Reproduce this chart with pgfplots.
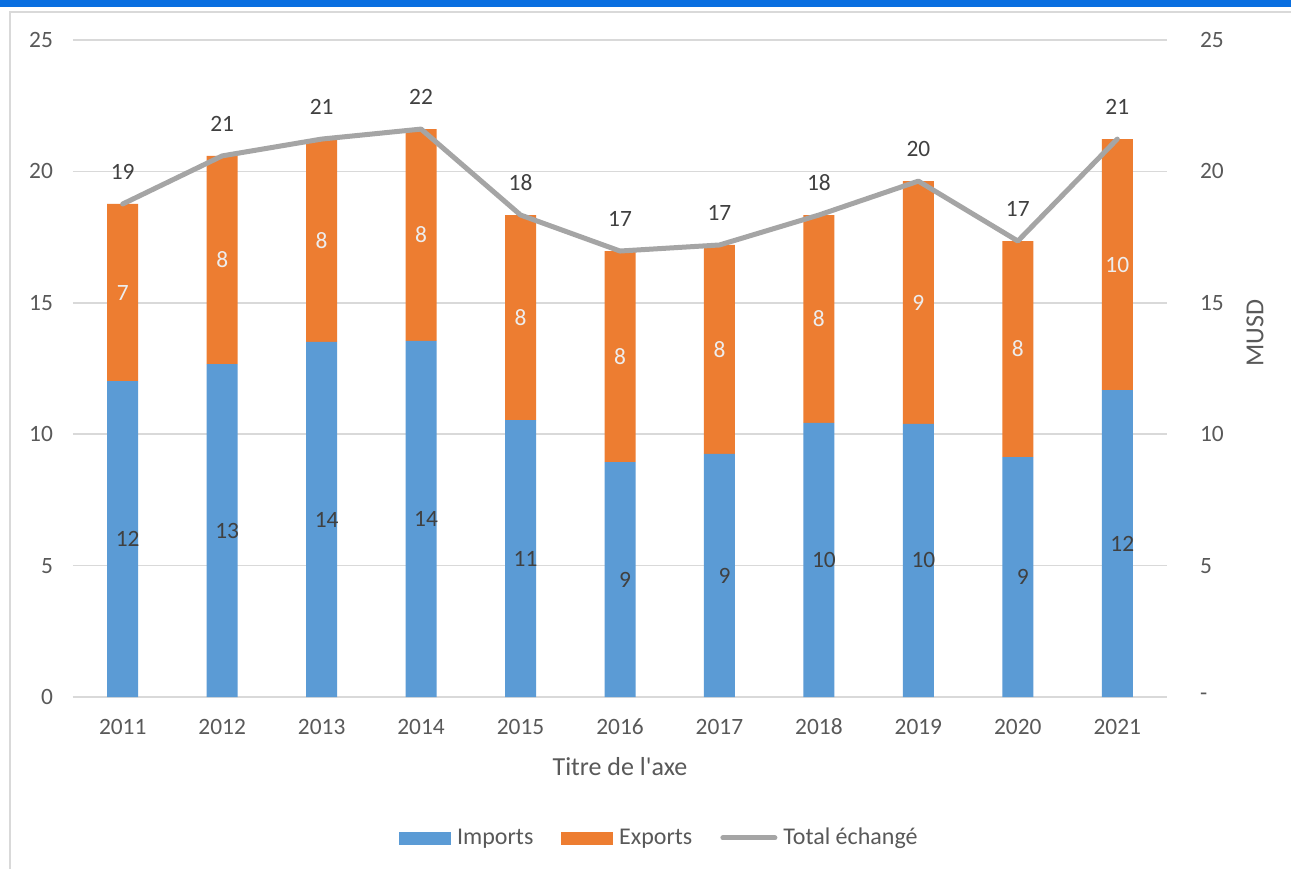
\documentclass[border=0pt]{standalone}
\usepackage{fontspec}
\setmainfont{Carlito}
\usepackage{pgfplots}
\usepackage{pgfplotstable}
\pgfplotsset{compat=1.18}
\definecolor{cImp}{HTML}{5B9BD5}
\definecolor{cExp}{HTML}{ED7D31}
\definecolor{cTot}{HTML}{A5A5A5}
\definecolor{cGrid}{HTML}{D9D9D9}
\definecolor{cTick}{HTML}{595959}
\definecolor{cLab}{HTML}{404040}
\definecolor{cBand}{HTML}{0A6FE0}
\pgfplotstableread{
x imp exp tot il el tl
0 12.02 6.74 18.76 12 7 19
1 12.67 7.92 20.59 13 8 21
2 13.51 7.72 21.23 14 8 21
3 13.55 8.06 21.61 14 8 22
4 10.54 7.80 18.34 11 8 18
5 8.94 8.03 16.97 9 8 17
6 9.25 7.95 17.20 9 8 17
7 10.43 7.91 18.34 10 8 18
8 10.39 9.24 19.63 10 9 20
9 9.13 8.22 17.35 9 8 17
10 11.68 9.55 21.23 12 10 21
}\datatable
\newcommand{\fs}{\fontsize{11.7}{13}\selectfont}
\newcommand{\fl}{\fontsize{12}{14}\selectfont}
\newcommand{\ft}{\fontsize{13}{15}\selectfont}
\begin{document}
\begin{tikzpicture}
\useasboundingbox (-36.5pt,-85.5pt) rectangle (609pt,348.5pt);
\fill[white] (-36.5pt,-85.5pt) rectangle (609pt,348.5pt);
\draw[cGrid, line width=0.6pt] (-31.5pt,-90pt) -- (-31.5pt,342.5pt) -- (615pt,342.5pt);
\fill[cBand] (-36.5pt,345pt) rectangle (609pt,348.5pt);
\begin{axis}[
  at={(0,0)}, anchor=south west,
  scale only axis, width=547pt, height=328.5pt,
  xmin=-0.5, xmax=10.5, ymin=0, ymax=25,
  ybar stacked, bar width=15.5pt,
  axis x line*=bottom, axis y line*=left,
  x axis line style={draw=cGrid, line width=0.75pt},
  y axis line style={draw=none},
  major tick length=0pt,
  xtick={0,...,10},
  xticklabels={2011,2012,2013,2014,2015,2016,2017,2018,2019,2020,2021},
  ytick={0,5,...,25},
  ymajorgrids, grid style={cGrid, line width=0.75pt},
  tick label style={font=\fs, text=cTick},
  /pgf/number format/assume math mode=true,
  xticklabel style={anchor=center, yshift=-15pt},
  yticklabel style={xshift=-6.5pt},
  xlabel={Titre de l\textquotesingle axe},
  every axis x label/.style={at={(axis description cs:0.5,0)}, anchor=center, yshift=-35pt, font=\ft, text=cTick},
  clip=false,
]
\addplot[fill=cImp, draw=none] table[x=x, y=imp] {\datatable};
\addplot[fill=cExp, draw=none] table[x=x, y=exp] {\datatable};
\end{axis}
\begin{axis}[
  at={(0,0)}, anchor=south west,
  scale only axis, width=547pt, height=328.5pt,
  xmin=-0.5, xmax=10.5, ymin=0, ymax=25,
  axis x line=none, axis y line*=right,
  y axis line style={draw=none},
  major tick length=0pt,
  ytick={0,5,...,25},
  yticklabels={-,5,10,15,20,25},
  tick label style={font=\fs, text=cTick},
  /pgf/number format/assume math mode=true,
  yticklabel style={xshift=13pt},
  ylabel={MUSD},
  every axis y label/.style={at={(axis description cs:1,0.554)}, anchor=center, rotate=90, yshift=-44pt, font=\ft, text=cTick},
  clip=false,
  legend style={at={(axis description cs:0.537,-0.2146)}, anchor=center, draw=none, fill=none,
    legend columns=-1, font=\fl, text=cTick,
    /tikz/every even column/.append style={column sep=12pt},
    /tikz/every odd column/.append style={column sep=1pt}},
  legend cell align=left,
]
\addlegendimage{area legend, legend image code/.code={\fill[cImp] (0pt,-3pt) rectangle (25.5pt,3pt);}}
\addlegendentry{Imports}
\addlegendimage{area legend, legend image code/.code={\fill[cExp] (0pt,-3pt) rectangle (25.5pt,3pt);}}
\addlegendentry{Exports}
\addplot[cTot, line width=2.5pt, line cap=round, line join=round, mark=none,
  nodes near coords, point meta=explicit symbolic,
  every node near coord/.append style={anchor=center, yshift=16pt, font=\fs, text=cLab},
  legend image code/.code={\draw[cTot, line width=2.5pt, line cap=round] (1pt,0pt) -- (27pt,0pt);}]
  table[x=x, y=tot, meta=tl] {\datatable};
\addlegendentry{Total échangé}
\addplot[draw=none, mark=none, forget plot,
  nodes near coords, point meta=explicit symbolic,
  every node near coord/.append style={anchor=center, xshift=2.5pt, font=\fs, text=cLab}]
  table[x=x, y expr=\thisrow{imp}/2, meta=il] {\datatable};
\addplot[draw=none, mark=none, forget plot,
  nodes near coords, point meta=explicit symbolic,
  every node near coord/.append style={anchor=center, font=\fs, text=white!93!black}]
  table[x=x, y expr=\thisrow{imp}+\thisrow{exp}/2, meta=el] {\datatable};
\end{axis}
\end{tikzpicture}
\end{document}
